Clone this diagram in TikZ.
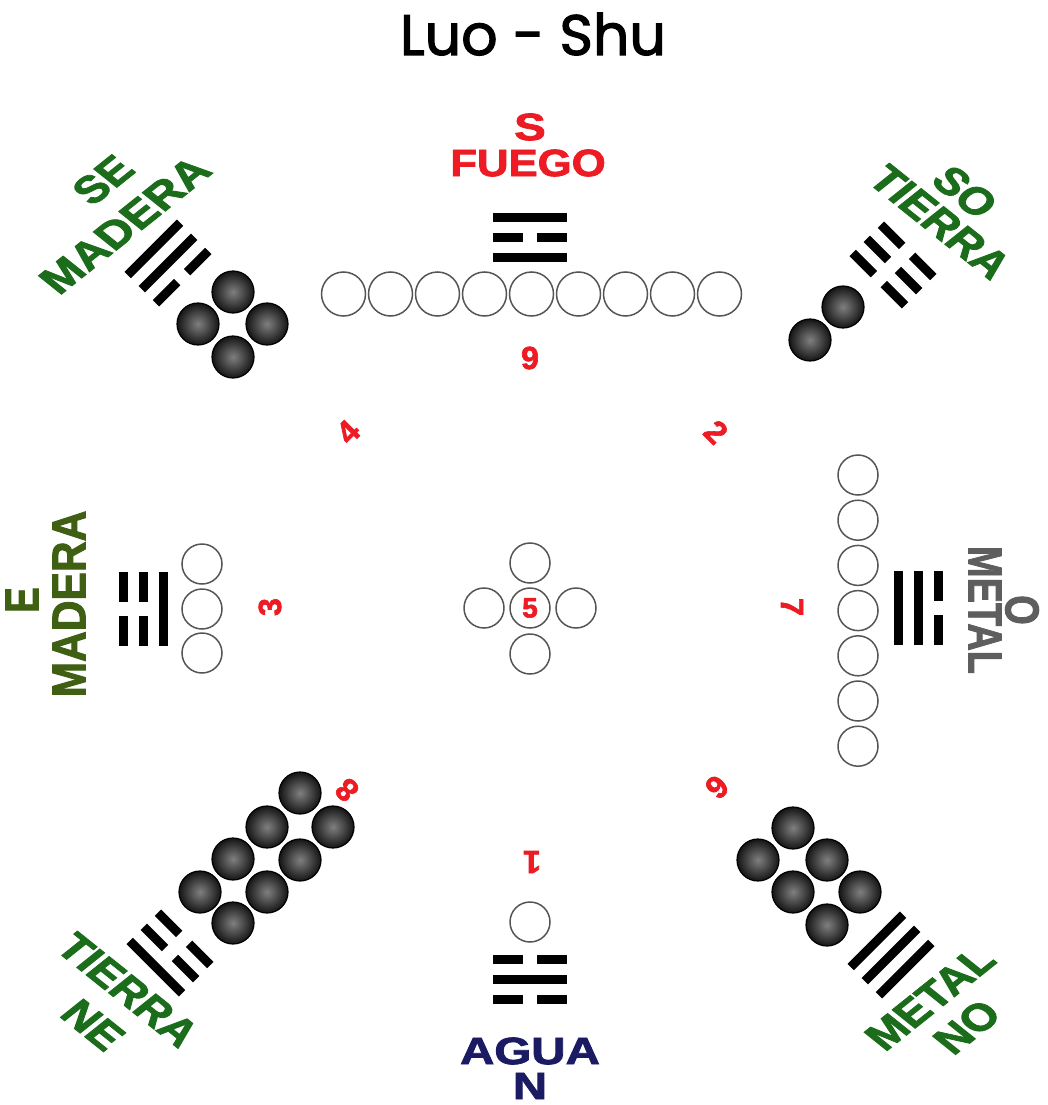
\documentclass[tikz,border=0pt]{standalone}
\usepackage{fontspec}
\newfontfamily\heavyfont{Liberation Sans Bold}[FakeBold=2]
\newfontfamily\titlefont{Poppins}[FakeBold=2]
\definecolor{cgreen}{HTML}{1B6D1B}
\definecolor{colive}{HTML}{3F5F12}
\definecolor{cgray}{HTML}{5E5E5E}
\definecolor{cred}{HTML}{ED1C24}
\definecolor{cnavy}{HTML}{1B1B63}
\definecolor{ringgray}{HTML}{555555}
\tikzset{
  lbl/.style={font=\heavyfont\fontsize{38}{38}\selectfont, inner sep=0pt, xscale=1.25},
  num/.style={font=\heavyfont\fontsize{32}{32}\selectfont, inner sep=0pt, text=cred},
  hollow/.style={draw=ringgray, line width=1.5pt, fill=white},
  ballline/.style={draw=black, line width=1.2pt},
}
\newcommand\trigbar[2]{%
  \ifnum#2=1
    \fill (-37,#1-4.5) rectangle (37,#1+4.5);
  \else
    \fill (-37,#1-4.5) rectangle (-7,#1+4.5);
    \fill (7,#1-4.5) rectangle (37,#1+4.5);
  \fi}
\newcommand\trig[5]{%
  \begin{scope}[shift={#1}, rotate=#2]
    \trigbar{-20}{#3}\trigbar{0}{#4}\trigbar{20}{#5}
  \end{scope}}
\newcommand\hcirc[3]{\draw[hollow] (#1,#2) circle (#3);}
\newcommand\ball[2]{%
  \shade[inner color=black!50, outer color=black!92] (#1,#2) circle (21);
  \draw[ballline] (#1,#2) circle (21);}
\begin{document}
\begin{tikzpicture}[x=1pt, y=-1pt]
\useasboundingbox (0,0) rectangle (1047,1105);
\fill[white] (0,0) rectangle (1047,1105);

% title
\node[font=\titlefont\fontsize{57}{57}\selectfont, inner sep=0pt, anchor=base] (title) at (533,55) {Luo - Shu};

% ---------- top (S) ----------
\node[lbl, text=cred] (s) at (530,127) {S};
\node[lbl, text=cred, xscale=0.92] (fuego) at (528,163) {FUEGO};
\trig{(530,237)}{0}{1}{0}{1}
\foreach \k in {0,...,8} {\hcirc{343.5+47*\k}{294}{22}}
\node[num] (n9) at (530,358) {9};

% ---------- SE (upper left) ----------
\node[lbl, text=cgreen, rotate=45] (se) at (103,180) {SE};
\node[lbl, text=cgreen, rotate=45, xscale=1.05] (madera1) at (125,225) {MADERA};
\trig{(168,263)}{45}{1}{1}{0}
\ball{233}{292}\ball{198}{324}\ball{267}{324}\ball{233}{357}
\node[num, rotate=45] (n4) at (348,432) {4};

% ---------- SO (upper right) ----------
\node[lbl, text=cgreen, rotate=-45] (so) at (965,192) {SO};
\node[lbl, text=cgreen, rotate=-45] (tierra1) at (940,222) {TIERRA};
\trig{(893,265)}{-45}{0}{0}{0}
\ball{843}{307}\ball{810}{340}
\node[num, rotate=-45] (n2) at (716,432) {2};

% ---------- E (left) ----------
\node[lbl, text=colive, rotate=90] (e) at (22,600) {E};
\node[lbl, text=colive, rotate=90, xscale=1.12] (madera2) at (69,604) {MADERA};
\trig{(143,609)}{90}{0}{0}{1}
\hcirc{202}{564}{20}\hcirc{202}{609}{20}\hcirc{202}{653}{20}
\node[num, rotate=90] (n3) at (270,607) {3};

% ---------- centre ----------
\hcirc{530}{563}{20}\hcirc{484}{608}{20}\hcirc{576}{608}{20}\hcirc{530}{654}{20}
\hcirc{530}{608}{20}
\node[num, font=\heavyfont\fontsize{28}{28}\selectfont] (n5) at (530,608) {5};

% ---------- O (right) ----------
\node[lbl, text=cgray, rotate=-90] (o) at (1022,610) {O};
\node[lbl, text=cgray, rotate=-90] (metal1) at (985,610) {METAL};
\trig{(918,608)}{-90}{0}{1}{1}
\foreach \k in {0,...,6} {\hcirc{858}{475+45.2*\k}{20}}
\node[num, rotate=-90] (n7) at (792,607) {7};

% ---------- NE (lower left) ----------
\ball{300}{793}\ball{267}{827}\ball{333}{827}\ball{233}{859}
\ball{300}{860}\ball{200}{892}\ball{267}{892}\ball{233}{923}
\node[num, rotate=135] (n8) at (347,790) {8};
\trig{(170,953)}{135}{1}{0}{0}
\node[lbl, text=cgreen, rotate=-45] (tierra2) at (128,990) {TIERRA};
\node[lbl, text=cgreen, rotate=-45] (ne) at (93,1025) {NE};

% ---------- NO (lower right) ----------
\ball{793}{828}\ball{758}{860}\ball{827}{860}\ball{793}{892}
\ball{860}{892}\ball{827}{925}
\node[num, rotate=-135] (n6) at (717,787) {6};
\trig{(891,955)}{-135}{1}{1}{1}
\node[lbl, text=cgreen, rotate=45] (metal2) at (930,998) {METAL};
\node[lbl, text=cgreen, rotate=45] (no) at (967,1027) {NO};

% ---------- N (bottom) ----------
\node[num, rotate=180] (n1) at (532,862) {1};
\hcirc{530}{922}{20}
\trig{(530,979)}{180}{0}{1}{0}
\node[lbl, text=cnavy] (agua) at (530,1051) {AGUA};
\node[lbl, text=cnavy] (n) at (530,1086) {N};
\end{tikzpicture}
\end{document}
